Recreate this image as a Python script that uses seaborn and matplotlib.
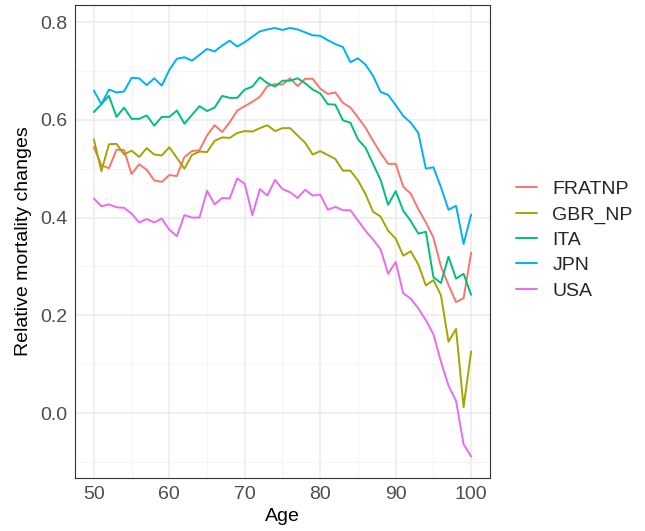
import matplotlib
matplotlib.use("Agg")
import matplotlib.pyplot as plt
from matplotlib.ticker import MultipleLocator
import numpy as np
import pandas as pd
import seaborn as sns

ages = list(range(50, 101))

fratnp = [0.544, 0.507, 0.501, 0.539, 0.538, 0.489, 0.509, 0.498, 0.476, 0.473,
          0.487, 0.485, 0.524, 0.536, 0.538, 0.568, 0.589, 0.575, 0.595, 0.619,
          0.628, 0.637, 0.647, 0.669, 0.673, 0.672, 0.685, 0.669, 0.684, 0.684,
          0.664, 0.653, 0.656, 0.635, 0.625, 0.605, 0.584, 0.557, 0.532, 0.510,
          0.510, 0.463, 0.449, 0.417, 0.390, 0.359, 0.300, 0.262, 0.227, 0.235,
          0.328]
gbr_np = [0.560, 0.495, 0.550, 0.551, 0.529, 0.537, 0.524, 0.542, 0.529, 0.527,
          0.544, 0.522, 0.500, 0.528, 0.535, 0.534, 0.557, 0.564, 0.563, 0.573,
          0.577, 0.576, 0.583, 0.589, 0.577, 0.583, 0.583, 0.568, 0.553, 0.529,
          0.536, 0.528, 0.520, 0.496, 0.496, 0.476, 0.448, 0.412, 0.402, 0.373,
          0.357, 0.322, 0.331, 0.304, 0.261, 0.272, 0.241, 0.146, 0.172, 0.012,
          0.126]
ita = [0.616, 0.632, 0.649, 0.606, 0.625, 0.602, 0.602, 0.609, 0.588, 0.606,
       0.606, 0.619, 0.592, 0.610, 0.628, 0.618, 0.625, 0.649, 0.645, 0.645,
       0.662, 0.668, 0.687, 0.675, 0.668, 0.680, 0.680, 0.685, 0.675, 0.662,
       0.654, 0.632, 0.631, 0.599, 0.594, 0.560, 0.543, 0.510, 0.477, 0.426,
       0.454, 0.414, 0.393, 0.367, 0.371, 0.278, 0.266, 0.320, 0.275, 0.285,
       0.242]
jpn = [0.660, 0.632, 0.662, 0.656, 0.658, 0.686, 0.685, 0.671, 0.685, 0.670,
       0.702, 0.725, 0.728, 0.721, 0.733, 0.745, 0.740, 0.752, 0.762, 0.750,
       0.759, 0.770, 0.781, 0.785, 0.788, 0.784, 0.788, 0.785, 0.779, 0.773,
       0.772, 0.763, 0.755, 0.749, 0.718, 0.726, 0.713, 0.690, 0.657, 0.651,
       0.630, 0.608, 0.594, 0.573, 0.500, 0.503, 0.462, 0.416, 0.424, 0.346,
       0.406]
usa = [0.439, 0.423, 0.427, 0.421, 0.420, 0.408, 0.390, 0.397, 0.390, 0.398,
       0.375, 0.362, 0.405, 0.400, 0.400, 0.455, 0.427, 0.440, 0.439, 0.480,
       0.469, 0.405, 0.458, 0.445, 0.477, 0.458, 0.452, 0.440, 0.457, 0.445,
       0.447, 0.416, 0.422, 0.415, 0.415, 0.394, 0.373, 0.355, 0.335, 0.285,
       0.309, 0.245, 0.234, 0.214, 0.190, 0.161, 0.105, 0.056, 0.025, -0.064,
       -0.089]

countries = ["FRATNP", "GBR_NP", "ITA", "JPN", "USA"]
colors = ["#F8766D", "#A3A500", "#00BF7D", "#00B0F6", "#E76BF3"]

df = pd.DataFrame({
    "Age": ages * 5,
    "value": fratnp + gbr_np + ita + jpn + usa,
    "country": np.repeat(countries, len(ages)),
})

sns.set_style("white")
plt.rcParams["font.family"] = ["Liberation Sans", "DejaVu Sans"]

fig = plt.figure(figsize=(6.45, 5.31), dpi=100)
ax = fig.add_axes([75 / 645, 53 / 531, 415 / 645, 473 / 531])

sns.lineplot(data=df, x="Age", y="value", hue="country", palette=colors,
             hue_order=countries, linewidth=1.4, ax=ax, legend=False)

ax.set_xlim(47.5, 102.5)
ax.set_ylim(-0.133, 0.835)
ax.xaxis.set_major_locator(MultipleLocator(10))
ax.xaxis.set_minor_locator(MultipleLocator(5))
ax.yaxis.set_major_locator(MultipleLocator(0.2))
ax.yaxis.set_minor_locator(MultipleLocator(0.1))
ax.set_yticks([0.0, 0.2, 0.4, 0.6, 0.8])
ax.set_yticklabels(["0.0", "0.2", "0.4", "0.6", "0.8"])
ax.grid(which="major", color="#EBEBEB", linewidth=1.1)
ax.grid(which="minor", color="#F2F2F2", linewidth=0.6)
ax.set_axisbelow(True)
for s in ax.spines.values():
    s.set_color("#333333")
    s.set_linewidth(0.8)
ax.tick_params(which="major", length=3.5, width=0.8, color="#333333",
               labelcolor="#4D4D4D", labelsize=14, pad=2)
ax.tick_params(which="minor", length=0)

ax.set_xlabel("Age", fontsize=14, color="black", labelpad=4)
ax.set_ylabel("Relative mortality changes", fontsize=14, color="black", labelpad=6)

handles = [plt.Line2D([], [], color=c, linewidth=1.4) for c in colors]
fig.legend(handles, countries, loc="center left",
           bbox_to_anchor=(498 / 645, (531 - 240) / 531),
           frameon=False, fontsize=14, handlelength=1.1, handletextpad=0.8,
           labelspacing=0.4)

fig.savefig("out.png", dpi=100)
